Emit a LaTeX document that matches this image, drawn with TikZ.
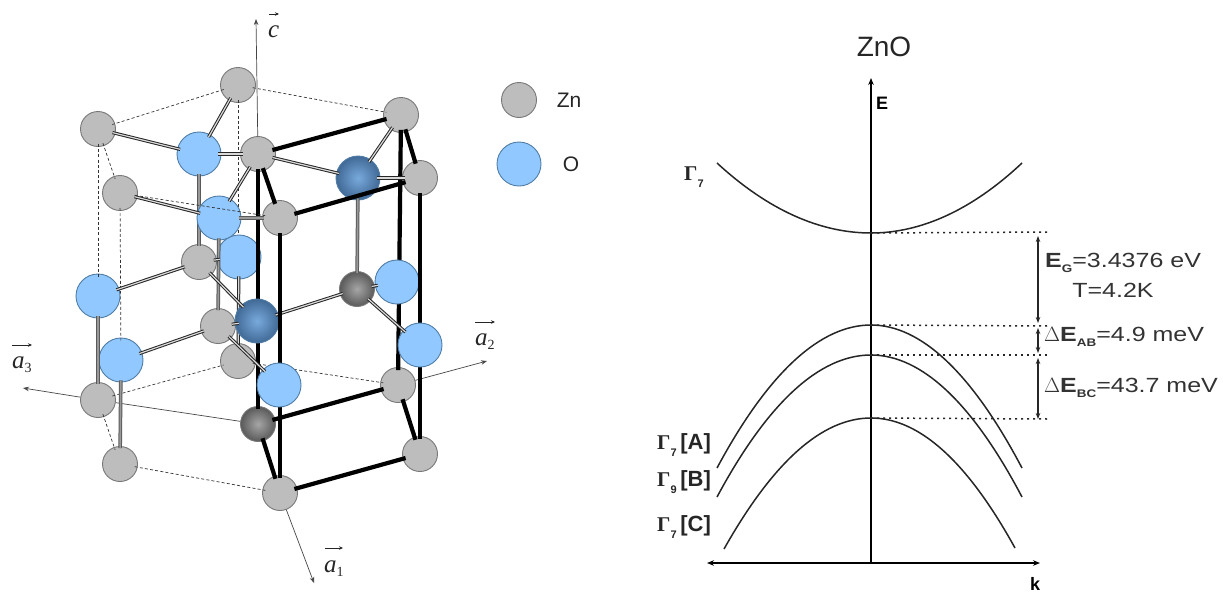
\documentclass[tikz,border=0pt]{standalone}
\usepackage{fontspec}
\setmainfont{Liberation Sans}
\newfontfamily\widefont[FakeStretch=1.22]{Liberation Sans}
\newfontfamily\gammafont{Liberation Serif}
\usepackage{xcolor}
\usepackage{tikz}
\usetikzlibrary{arrows.meta,positioning,calc}
\definecolor{zngrey}{RGB}{189,189,189}
\definecolor{znedge}{RGB}{120,120,120}
\definecolor{oblue}{RGB}{145,200,255}
\definecolor{oedge}{RGB}{80,125,165}
\definecolor{oshine}{RGB}{120,170,220}
\definecolor{oshade}{RGB}{65,105,150}
\definecolor{axisgrey}{RGB}{70,70,70}
\newcommand{\gamlabel}[2]{{\gammafont\bfseries\fontsize{21}{24}\selectfont\symbol{"0393}}\raisebox{-7pt}{\fontsize{11}{11}\selectfont\bfseries #1}\,{\bfseries #2}}
\newcommand{\latvec}[2]{\textit{#1}\raisebox{-4pt}{\fontsize{14}{14}\selectfont #2}}

\begin{document}
\begin{tikzpicture}[x=1pt, y=-1pt,
    zn/.style={circle, draw=znedge, line width=0.9pt, fill=zngrey, minimum size=35pt, inner sep=0pt},
    znd/.style={circle, draw=znedge, line width=0.9pt, minimum size=35pt, inner sep=0pt,
        inner color=black!35, outer color=black!65},
    ox/.style={circle, draw=oedge, line width=0.9pt, fill=oblue, minimum size=44pt, inner sep=0pt},
    oxd/.style={circle, draw=oedge, line width=0.9pt, minimum size=44pt, inner sep=0pt,
        inner color=oshine, outer color=oshade},
    thickbond/.style={line width=4.2pt, black, shorten <=-3pt, shorten >=-3pt},
    dblbond/.style={double=white!85!black, double distance=1.2pt, line width=1pt, black!85, shorten <=-3pt, shorten >=-3pt},
    greybond/.style={double=black!40, double distance=1.6pt, line width=1pt, black!65, shorten <=-2pt, shorten >=-2pt},
    hexdash/.style={dashed, dash pattern=on 3pt off 2.2pt, line width=0.7pt, black!80, shorten <=-3pt, shorten >=-3pt},
    cellaxis/.style={-{Stealth[length=6pt,width=4.5pt]}, line width=0.7pt, axisgrey},
    vecbar/.style={-{Stealth[length=4pt,width=3.5pt]}, line width=0.8pt, black!85},
    band/.style={line width=1.5pt, black!85},
    bandaxis/.style={-{Stealth[length=7pt,width=5.5pt]}, black},
    gap/.style={{Stealth[length=6pt,width=4.5pt]}-{Stealth[length=6pt,width=4.5pt]}, line width=1.7pt, black!85},
    dots/.style={line width=1.5pt, black!85, dash pattern=on 2pt off 4pt},
    veclabel/.style={font=\gammafont\fontsize{25}{28}\selectfont, black!85, inner sep=0pt, anchor=base west},
    level/.style={font=\widefont\fontsize{20.5}{24}\selectfont, black!80, inner sep=0pt},
    gamma/.style={font=\fontsize{22}{24}\selectfont, black!85, inner sep=0pt}
]
    \useasboundingbox (0,0) rectangle (1223,592);

    % Zn sites
    \node[zn] (zntop) at (238,85) {};
    \node[zn] (znback) at (98,129) {};
    \node[zn] (zncen) at (258,154) {};
    \node[zn] (znleft) at (120,193) {};
    \node[zn] (znfront) at (280,218) {};
    \node[zn] (znmid) at (199,262) {};
    \node[zn] (znlow) at (218,326) {};
    \node[zn] (znbase) at (238,361) {};
    \node[zn] (znright) at (401,115) {};
    \node[zn] (znedge) at (420,178) {};
    \node[zn] (znbl) at (98,400) {};
    \node[zn] (znbb) at (120,464) {};
    \node[zn] (znbot) at (280,493) {};
    \node[zn] (znbr) at (398,385) {};
    \node[zn] (znbe) at (420,454) {};
    \node[znd] (zndkr) at (357,289) {};
    \node[znd] (zndkf) at (258,424) {};

    % Axes
    \coordinate (ctip) at (256,19);
    \coordinate (atip3) at (23,388);
    \coordinate (atip2) at (487,361);
    \coordinate (atip1) at (314,583);
    \draw[cellaxis] (zncen) -- (ctip);
    \draw[line width=0.7pt, axisgrey] (zndkf) -- (znbl);
    \draw[cellaxis] (znbl) -- (atip3);
    \draw[cellaxis] (znbr) -- (atip2);
    \draw[cellaxis] (znbot) -- (atip1);
    \node[veclabel] (clab) at (268,37) {\textit{c}};
    \node[veclabel] (a3lab) at (12,368) {\latvec{a}{3}};
    \node[veclabel] (a2lab) at (475,345) {\latvec{a}{2}};
    \node[veclabel] (a1lab) at (324,572) {\latvec{a}{1}};
    \coordinate (cbar) at (269,14);
    \coordinate (cbarend) at (279,14);
    \coordinate (a3bar) at (12,345);
    \coordinate (a3barend) at (32,345);
    \coordinate (a2bar) at (475,322);
    \coordinate (a2barend) at (495,322);
    \coordinate (a1bar) at (325,548);
    \coordinate (a1barend) at (343,548);
    \draw[vecbar] (cbar) -- (cbarend);
    \draw[vecbar] (a3bar) -- (a3barend);
    \draw[vecbar] (a2bar) -- (a2barend);
    \draw[vecbar] (a1bar) -- (a1barend);

    % Hidden edges
    \draw[hexdash] (zntop) -- (znback);
    \draw[hexdash] (zntop) -- (znright);
    \draw[hexdash] (znback) -- (znleft);
    \draw[hexdash] (zntop) -- (znbase);
    \draw[hexdash] (znbl) -- (znbb);
    \draw[hexdash] (znbb) -- (znbot);
    \draw[hexdash] (znbl) -- (znbase);
    \draw[hexdash] (znbase) -- (znbr);

    % O sites behind the front frame
    \node[ox] (oxa) at (199,154) {};
    \node[ox] (oxl) at (98,296) {};
    \node[ox] (oxb) at (121,360) {};
    \node[ox] (oxm) at (239,257) {};
    \node[oxd] (oxdk) at (358,178) {};
    \draw[hexdash] (znback) -- (oxl);
    \draw[hexdash] (znleft) -- (oxb);
    \draw[greybond] (oxa) -- (znmid);
    \draw[dblbond] (oxm) -- (znbase);

    % Frame, back part
    \draw[thickbond] (zncen) -- (zndkf);
    \draw[thickbond] (znright) -- (znbr);

    \node[ox] (oxf) at (219,218) {};
    \node[oxd] (oxc) at (257,321) {};
    \node[ox] (oxr) at (397,282) {};

    % Double bonds
    \draw[dblbond] (znback) -- (oxa);
    \draw[dblbond] (oxa) -- (zntop);
    \draw[dblbond] (oxa) -- (zncen);
    \draw[dblbond] (znleft) -- (oxf);
    \draw[dblbond] (oxf) -- (zncen);
    \draw[greybond] (oxf) -- (znfront);
    \draw[greybond] (oxf) -- (znlow);
    \draw[hexdash] (znleft) -- (znfront);
    \draw[dblbond] (znmid) -- (oxl);
    \draw[dblbond] (oxm) -- (znmid);
    \draw[dblbond] (znmid) -- (oxc);
    \draw[dblbond] (oxc) -- (znlow);
    \draw[dblbond] (oxc) -- (zndkr);
    \draw[dblbond] (oxb) -- (znlow);
    \draw[greybond] (oxl) -- (znbl);
    \draw[greybond] (oxb) -- (znbb);
    \draw[dblbond] (zncen) -- (oxdk);
    \draw[dblbond] (oxdk) -- (znright);
    \draw[dblbond] (oxdk) -- (znedge);
    \draw[greybond] (oxdk) -- (zndkr);
    \draw[dblbond] (zndkr) -- (oxr);

    % Frame, front part
    \draw[thickbond] (zncen) -- (znright);
    \draw[thickbond] (zncen) -- (znfront);
    \draw[thickbond] (znright) -- (znedge);
    \draw[thickbond] (znfront) -- (znedge);
    \draw[thickbond] (znfront) -- (znbot);
    \draw[thickbond] (znedge) -- (znbe);
    \draw[thickbond] (zndkf) -- (znbr);
    \draw[thickbond] (zndkf) -- (znbot);
    \draw[thickbond] (znbr) -- (znbe);
    \draw[thickbond] (znbot) -- (znbe);

    \node[ox] (oxg) at (279,385) {};
    \node[ox] (oxh) at (420,345) {};
    \draw[dblbond] (znlow) -- (oxg);
    \draw[dblbond] (zndkr) -- (oxh);

    % Legend
    \node[zn] (keyzn) at (519,100) {};
    \node[ox] (keyox) at (519,164) {};
    \node[font=\fontsize{21}{24}\selectfont, black!85, inner sep=0pt] (keyzntxt) at (569,100) {Zn};
    \node[font=\fontsize{21}{24}\selectfont, black!85, inner sep=0pt] (keyoxtxt) at (571,164) {O};

    % Band diagram
    \node[font=\fontsize{28}{32}\selectfont, black!85, inner sep=0pt] (title) at (884,47) {ZnO};
    \coordinate (eorigin) at (871,563);
    \coordinate (etip) at (871,78);
    \coordinate (kleft) at (707,563);
    \coordinate (kright) at (1040,563);
    \draw[bandaxis, line width=1.8pt] (eorigin) -- (etip);
    \draw[bandaxis, line width=1.4pt] (eorigin) -- (kleft);
    \draw[bandaxis, line width=1.4pt] (eorigin) -- (kright);
    \node[font=\bfseries\fontsize{18}{20}\selectfont, inner sep=0pt] (elab) at (882,103) {E};
    \node[font=\bfseries\fontsize{18}{20}\selectfont, inner sep=0pt] (klab) at (1035,584) {k};

    \coordinate (gmin) at (871,233);
    \coordinate (amax) at (871,325);
    \coordinate (bmax) at (871,355);
    \coordinate (cmax) at (871,418);
    \coordinate (gl) at (717,163);
    \coordinate (gr) at (1022,163);
    \coordinate (al) at (717,468);
    \coordinate (ar) at (1022,468);
    \coordinate (bl) at (717,497);
    \coordinate (br) at (1022,497);
    \coordinate (cl) at (724,549);
    \coordinate (cr) at (1015,548);
    \draw[band] (gl) .. controls (768,210) and (820,233) .. (gmin)
        .. controls (921,233) and (972,210) .. (gr);
    \draw[band] (al) .. controls (768,373) and (820,325) .. (amax)
        .. controls (921,325) and (972,373) .. (ar);
    \draw[band] (bl) .. controls (768,402) and (820,355) .. (bmax)
        .. controls (921,355) and (972,402) .. (br);
    \draw[band] (cl) .. controls (773,462) and (822,418) .. (cmax)
        .. controls (919,418) and (967,461) .. (cr);

    \coordinate (gend) at (1048,232);
    \coordinate (aend) at (1048,326);
    \coordinate (bend) at (1048,355);
    \coordinate (cend) at (1048,419);
    \draw[dots] (gmin) -- (gend);
    \draw[dots] (amax) -- (aend);
    \draw[dots] (bmax) -- (bend);
    \draw[dots] (cmax) -- (cend);

    \coordinate (gap1) at (1038,236);
    \coordinate (gap2) at (1038,323);
    \coordinate (gap3) at (1038,328);
    \coordinate (gap4) at (1038,353);
    \coordinate (gap5) at (1038,358);
    \coordinate (gap6) at (1038,419);
    \draw[gap] (gap1) -- (gap2);
    \draw[gap] (gap3) -- (gap4);
    \draw[gap] (gap5) -- (gap6);

    % Annotations
    \node[level, anchor=west] (eglab) at (1045,263) {\textbf{E}\raisebox{-5pt}{\fontsize{11}{11}\selectfont\bfseries G}=3.4376 eV};
    \node[level] (tlab) at (1113,290) {T=4.2K};
    \node[level, anchor=west] (ablab) at (1044,337) {$\Delta$\textbf{E}\raisebox{-5pt}{\fontsize{11}{11}\selectfont\bfseries AB}=4.9 meV};
    \node[level, anchor=west] (bclab) at (1044,388) {$\Delta$\textbf{E}\raisebox{-5pt}{\fontsize{11}{11}\selectfont\bfseries BC}=43.7 meV};

    \node[gamma, anchor=west] (g7c) at (684,177) {\gamlabel{7}{}};
    \node[gamma, anchor=west] (g7a) at (657,445) {\gamlabel{7}{[A]}};
    \node[gamma, anchor=west] (g9b) at (657,482) {\gamlabel{9}{[B]}};
    \node[gamma, anchor=west] (g7cc) at (657,527) {\gamlabel{7}{[C]}};
\end{tikzpicture}
\end{document}
